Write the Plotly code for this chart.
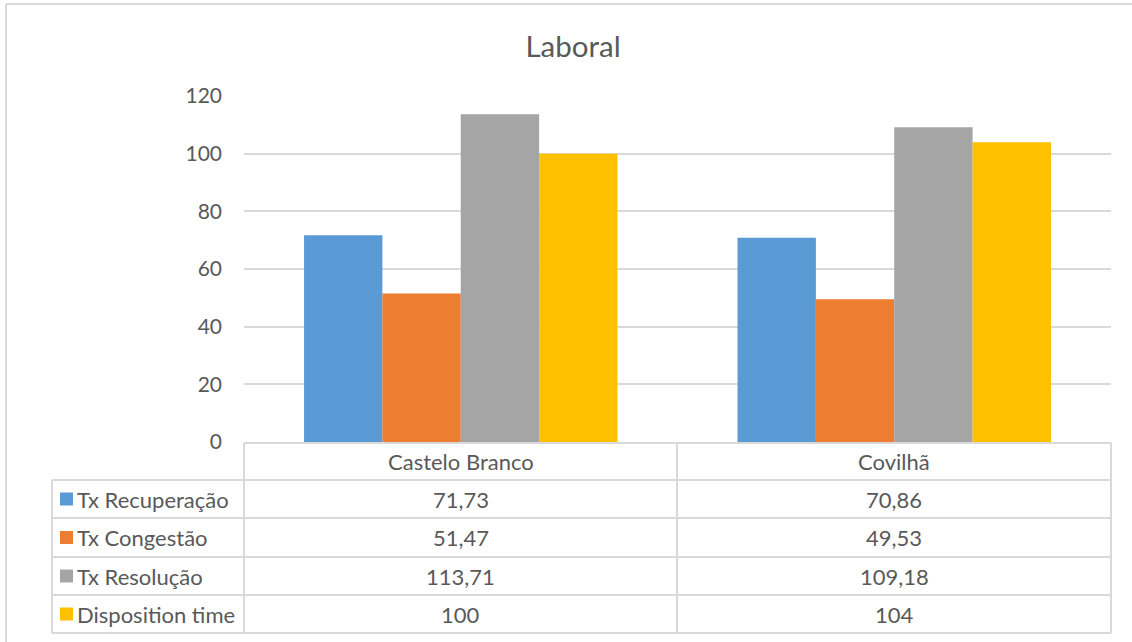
import plotly.graph_objects as go

# Data
categories = ["Castelo Branco", "Covilhã"]
series_names = ["Tx Recuperação", "Tx Congestão", "Tx Resolução", "Disposition time"]
tx_recuperacao = [71.73, 70.86]
tx_congestao = [51.47, 49.53]
tx_resolucao = [113.71, 109.18]
disposition_time = [100, 104]
y_ticks = [0, 20, 40, 60, 80, 100, 120]

series_values = [tx_recuperacao, tx_congestao, tx_resolucao, disposition_time]
colors = ["#5B9BD5", "#ED7D31", "#A5A5A5", "#FFC000"]

W, H = 1132, 642
PL, PR, PT, PB = 244, 1111, 96, 442   # plot area in pixels
PW, PH = PR - PL, PB - PT
FONT = "Lato"
TXT = "#595959"
LINE = "#D9D9D9"
TABLE_SIZE = 22


def px_x(x):
    return (x - PL) / PW


def px_y(y):
    return (PB - y) / PH


def fmt(v):
    return ("%g" % v).replace(".", ",")


fig = go.Figure()
for name, vals, col in zip(series_names, series_values, colors):
    fig.add_trace(go.Bar(x=categories, y=vals, name=name, marker_color=col,
                         marker_line_width=0, hoverinfo="x+y+name"))

shapes = []
annotations = []

# data table grid
row_lines = [443, 480, 518, 557, 595, 633]
for i, yy in enumerate(row_lines):
    x0 = PL if i == 0 else 52
    shapes.append(dict(type="line", xref="paper", yref="paper",
                       x0=px_x(x0), x1=px_x(PR), y0=px_y(yy), y1=px_y(yy),
                       line=dict(color=LINE, width=2)))
for xx, ytop in [(52, 480), (PL, 443), (677, 443), (PR, 443)]:
    shapes.append(dict(type="line", xref="paper", yref="paper",
                       x0=px_x(xx), x1=px_x(xx), y0=px_y(ytop), y1=px_y(633),
                       line=dict(color=LINE, width=2)))

# chart frame (top and left edges)
shapes.append(dict(type="line", xref="paper", yref="paper",
                   x0=px_x(6), x1=px_x(1200), y0=px_y(4), y1=px_y(4),
                   line=dict(color=LINE, width=2)))
shapes.append(dict(type="line", xref="paper", yref="paper",
                   x0=px_x(6), x1=px_x(6), y0=px_y(4), y1=px_y(700),
                   line=dict(color=LINE, width=2)))

# header row: category names
for c in categories:
    annotations.append(dict(xref="x", yref="paper", x=c, y=px_y(461.5),
                            xanchor="center", yanchor="middle",
                            text=c, showarrow=False,
                            font=dict(family=FONT, size=TABLE_SIZE, color=TXT)))

row_centers = [499, 537.5, 576, 614]
for name, vals, col, yc in zip(series_names, series_values, colors, row_centers):
    shapes.append(dict(type="rect", xref="paper", yref="paper",
                       x0=px_x(60), x1=px_x(73), y0=px_y(yc - 6.5), y1=px_y(yc + 6.5),
                       fillcolor=col, line=dict(width=0)))
    annotations.append(dict(xref="paper", yref="paper", x=px_x(75), y=px_y(yc),
                            xanchor="left", yanchor="middle", text=name, showarrow=False,
                            font=dict(family=FONT, size=TABLE_SIZE, color=TXT)))
    for c, v in zip(categories, vals):
        annotations.append(dict(xref="x", yref="paper", x=c, y=px_y(yc),
                                xanchor="center", yanchor="middle",
                                text=fmt(v), showarrow=False,
                                font=dict(family=FONT, size=TABLE_SIZE, color=TXT)))

fig.update_layout(
    width=W, height=H,
    margin=dict(l=PL, r=W - PR, t=PT, b=H - PB),
    paper_bgcolor="white", plot_bgcolor="white",
    barmode="group", bargap=0.277, bargroupgap=0,
    showlegend=False,
    title=dict(text="Laboral", x=(573 / W), xanchor="center", y=1 - 47 / H, yanchor="middle",
               font=dict(family=FONT, size=29.5, color=TXT)),
    font=dict(family=FONT, color=TXT),
    shapes=shapes, annotations=annotations,
)
fig.update_xaxes(showticklabels=False, showgrid=False, zeroline=False, showline=False)
fig.update_yaxes(range=[0, 120], tickvals=y_ticks, showgrid=True, gridcolor=LINE,
                 gridwidth=2, zeroline=False, showline=False, ticks="",
                 ticklabelstandoff=21, tickfont=dict(family=FONT, size=21, color=TXT))

fig.write_html("out.html")
